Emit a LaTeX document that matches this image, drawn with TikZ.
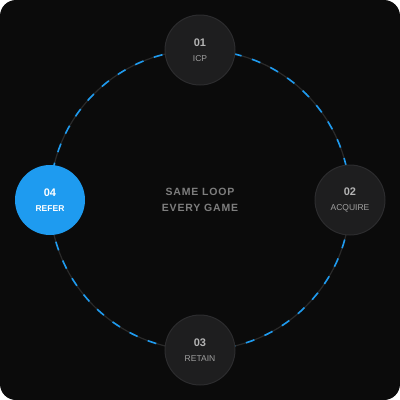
\documentclass[tikz,border=0pt]{standalone}
\usepackage{fontspec}
\setmainfont{Liberation Sans}
\usepackage{tikz}
\definecolor{bgdark}{HTML}{0B0B0B}
\definecolor{stepfill}{HTML}{1E1E1F}
\definecolor{stepline}{HTML}{2C2C2E}
\definecolor{loopblue}{HTML}{1E9BF0}
\definecolor{ringgray}{HTML}{2A2A2A}
\definecolor{numgray}{HTML}{B4B4B4}
\definecolor{labgray}{HTML}{A0A0A0}
\definecolor{midgray}{HTML}{7E7E7E}

\begin{document}
\begin{tikzpicture}[x=1pt,y=-1pt]
    \tikzstyle{every node}+=[inner sep=0pt]
    \tikzstyle{stepnode}=[circle, minimum size=70pt, fill=stepfill, draw=stepline, line width=1pt, align=center]
    \tikzstyle{activenode}=[circle, minimum size=70pt, fill=loopblue, align=center]
    \useasboundingbox (0,0) rectangle (400,400);
    \fill [white] (0,0) rectangle (400,400);
    \fill [bgdark, rounded corners=16pt] (0,0) rectangle (400,400);
    % the loop
    \draw [ringgray, line width=1.2pt] (200,200) circle (150);
    \draw [loopblue, line width=1.6pt, dash pattern=on 9pt off 11pt] (200,200) circle (150);
    % steps
    \node [stepnode] (icp) at (200,50) {\textcolor{numgray}{\fontsize{11}{13}\selectfont\bfseries 01}\\[3pt]\textcolor{labgray}{\fontsize{8.5}{10}\selectfont ICP}};
    \node [stepnode] (acquire) at (350,200) {\textcolor{numgray}{\fontsize{11}{13}\selectfont\bfseries 02}\\[3pt]\textcolor{labgray}{\fontsize{8.5}{10}\selectfont ACQUIRE}};
    \node [stepnode] (retain) at (200,350) {\textcolor{numgray}{\fontsize{11}{13}\selectfont\bfseries 03}\\[3pt]\textcolor{labgray}{\fontsize{8.5}{10}\selectfont RETAIN}};
    \node [activenode] (refer) at (50,200) {\textcolor{white}{\fontsize{11}{13}\selectfont\bfseries 04}\\[3pt]\textcolor{white}{\fontsize{8.5}{10}\selectfont\bfseries REFER}};
    % centre text
    \node [align=center, text=midgray, font=\fontsize{10.5}{16}\selectfont\bfseries\addfontfeatures{LetterSpace=8}] (loop) at (200,200) {SAME LOOP\\EVERY GAME};
\end{tikzpicture}
\end{document}
